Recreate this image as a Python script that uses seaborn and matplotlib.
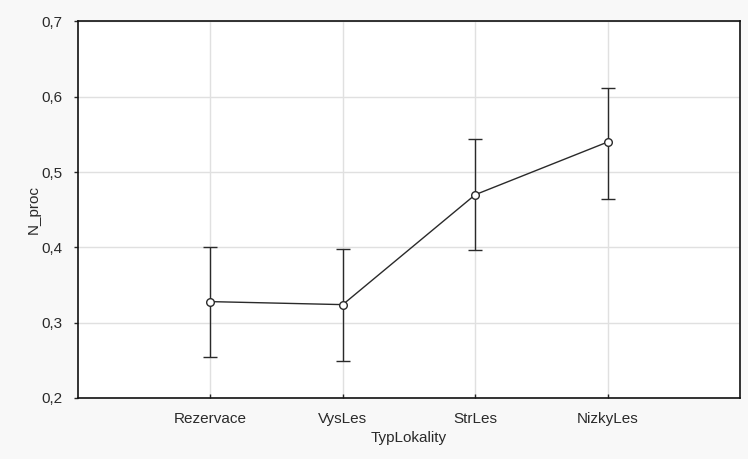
import matplotlib
matplotlib.use("Agg")
import matplotlib.pyplot as plt
import seaborn as sns
import pandas as pd
import numpy as np

categories = ["Rezervace", "VysLes", "StrLes", "NizkyLes"]
means = [0.328, 0.324, 0.470, 0.540]
lower = [0.254, 0.249, 0.397, 0.464]
upper = [0.401, 0.398, 0.544, 0.612]
yticks = [0.2, 0.3, 0.4, 0.5, 0.6, 0.7]
ytick_labels = ["0,2", "0,3", "0,4", "0,5", "0,6", "0,7"]

df = pd.DataFrame({"TypLokality": categories, "N_proc": means,
                   "lo": lower, "hi": upper})

sns.set_style("white")
plt.rcParams["font.family"] = ["Liberation Sans", "DejaVu Sans"]

fig = plt.figure(figsize=(7.48, 4.59), dpi=100, facecolor="#f8f8f8")
ax = fig.add_axes([0.1039, 0.1329, 0.9897 - 0.1039, 0.9532 - 0.1329])
ax.set_facecolor("white")

line_col = "#2a2a2a"
sns.lineplot(data=df, x="TypLokality", y="N_proc", sort=False, ax=ax,
             color=line_col, linewidth=1.0, marker="o", markersize=5.5,
             markerfacecolor="white", markeredgecolor=line_col,
             markeredgewidth=1.0, zorder=4)

xpos = np.arange(len(categories))
ax.errorbar(xpos, df["N_proc"],
            yerr=[df["N_proc"] - df["lo"], df["hi"] - df["N_proc"]],
            fmt="none", ecolor=line_col, elinewidth=1.0, capsize=5,
            capthick=1.0, zorder=3)

ax.set_xlim(-1, 4)
ax.set_ylim(0.2, 0.7)
ax.set_xticks(xpos)
ax.set_xticklabels(categories, fontsize=11, color="#2a2a2a")
ax.set_yticks(yticks)
ax.set_yticklabels(ytick_labels, fontsize=11, color="#2a2a2a")

ax.grid(True, color="#e0e0e0", linewidth=1.0)
ax.set_axisbelow(True)
for s in ax.spines.values():
    s.set_color("#111111")
    s.set_linewidth(1.2)
    s.set_visible(True)

ax.tick_params(axis="y", direction="out", length=3, width=1, pad=8, left=True)
ax.tick_params(axis="x", direction="in", length=3, width=1, pad=10, bottom=True)

ax.set_xlabel("TypLokality", fontsize=11, color="#2a2a2a", labelpad=4)
ax.set_ylabel("N_proc", fontsize=11, color="#2a2a2a", labelpad=0.5)

fig.savefig("out.png", dpi=100, facecolor=fig.get_facecolor())
